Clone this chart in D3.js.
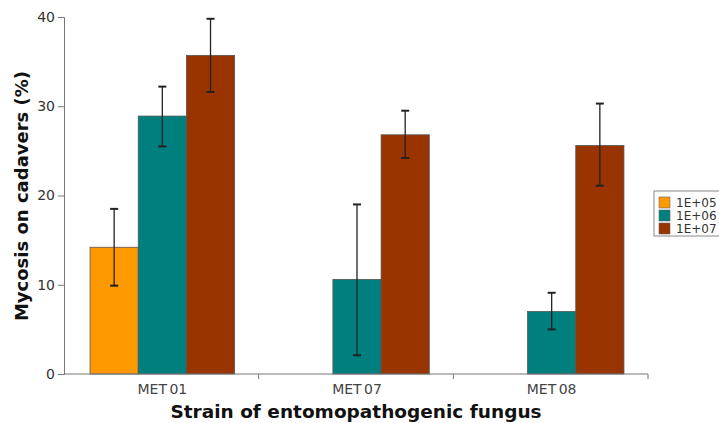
<!DOCTYPE html>
<html><head><meta charset="utf-8">
<script src="https://cdn.jsdelivr.net/npm/d3@7"></script>
<style>body{margin:0;background:#fff}svg{display:block}</style>
</head><body>
<svg id="c" width="719" height="423"></svg>
<script>
const strains = ["MET 01", "MET 07", "MET 08"];
const doses = ["1E+05", "1E+06", "1E+07"];
const colors = ["#ff9900", "#007f7f", "#993300"];
// means per dose, in strain order (null = no bar)
const mean05 = [14.2, null, null];
const mean06 = [28.9, 10.6, 7.0];
const mean07 = [35.7, 26.8, 25.6];
const lo05 = [9.9, null, null];
const hi05 = [18.5, null, null];
const lo06 = [25.5, 2.1, 5.0];
const hi06 = [32.2, 19.0, 9.1];
const lo07 = [31.6, 24.2, 21.1];
const hi07 = [39.8, 29.5, 30.3];
const yTicks = [0, 10, 20, 30, 40];

const means = [mean05, mean06, mean07];
const los = [lo05, lo06, lo07];
const his = [hi05, hi06, hi07];

const svg = d3.select("#c");
const font = "DejaVu Sans, Verdana, sans-serif";
const x0 = d3.scaleBand().domain(strains).range([64, 648]).paddingInner(0).paddingOuter(0);
const x1 = d3.scaleBand().domain(doses).range([0, x0.bandwidth()]).paddingInner(0).paddingOuter(0.52);
const y = d3.scaleLinear().domain([0, 40]).range([374, 17]);

const rows = [];
strains.forEach((s, i) => doses.forEach((d, j) => {
  if (means[j][i] != null) rows.push({s, d, j, v: means[j][i], lo: los[j][i], hi: his[j][i]});
}));

svg.append("g").selectAll("rect").data(rows).join("rect")
  .attr("x", r => x0(r.s) + x1(r.d) + 1)
  .attr("y", r => y(r.v))
  .attr("width", x1.bandwidth())
  .attr("height", r => y(0) - y(r.v))
  .attr("fill", r => colors[r.j])
  .attr("stroke", "#555").attr("stroke-width", 0.8);

const eb = svg.append("g").attr("stroke", "#222").attr("stroke-width", 1.3);
rows.forEach(r => {
  const cx = x0(r.s) + x1(r.d) + 1 + x1.bandwidth() / 2;
  eb.append("line").attr("x1", cx).attr("x2", cx).attr("y1", y(r.lo)).attr("y2", y(r.hi));
  eb.append("line").attr("x1", cx - 4).attr("x2", cx + 4).attr("y1", y(r.lo)).attr("y2", y(r.lo)).attr("stroke-width", 2);
  eb.append("line").attr("x1", cx - 4).attr("x2", cx + 4).attr("y1", y(r.hi)).attr("y2", y(r.hi)).attr("stroke-width", 2);
});

// y axis
const ya = svg.append("g").attr("transform", "translate(64,0)")
  .call(d3.axisLeft(y).tickValues(yTicks).tickSize(6).tickPadding(3));
ya.selectAll("path, line").attr("stroke", "#777");
ya.selectAll("text").attr("font-family", font).attr("font-size", 14).attr("fill", "#333");

// x axis
const xa = svg.append("g").attr("transform", "translate(0,374)");
xa.append("line").attr("x1", 64).attr("x2", 648).attr("stroke", "#777");
xa.selectAll("line.t").data(strains.slice(1).concat(["end"])).join("line").attr("class", "t")
  .attr("x1", (d, i) => i < 2 ? x0(d) : 648).attr("x2", (d, i) => i < 2 ? x0(d) : 648)
  .attr("y1", 0).attr("y2", 5).attr("stroke", "#777");
xa.selectAll("text").data(strains).join("text")
  .attr("x", d => x0(d) + x0.bandwidth() / 2 + 1).attr("y", 20)
  .attr("text-anchor", "middle").attr("font-family", font).attr("font-size", 14)
  .attr("fill", "#444").attr("word-spacing", -2).text(d => d);

// axis titles
svg.append("text").attr("x", 356).attr("y", 418).attr("text-anchor", "middle")
  .attr("font-family", font).attr("font-weight", "bold").attr("font-size", 18.5).attr("fill", "#111")
  .text("Strain of entomopathogenic fungus");
svg.append("text").attr("transform", "translate(28,196) rotate(-90)").attr("text-anchor", "middle")
  .attr("font-family", font).attr("font-weight", "bold").attr("font-size", 18).attr("fill", "#111")
  .text("Mycosis on cadavers (%)");

// legend
const lg = svg.append("g").attr("transform", "translate(654,191)");
lg.append("rect").attr("width", 70).attr("height", 45).attr("fill", "#fff").attr("stroke", "#888");
doses.forEach((d, i) => {
  lg.append("rect").attr("x", 5).attr("y", 6 + i * 13).attr("width", 11).attr("height", 11)
    .attr("fill", colors[i]).attr("stroke", "#666").attr("stroke-width", 0.6);
  lg.append("text").attr("x", 22).attr("y", 15.5 + i * 13).attr("font-family", font)
    .attr("font-size", 12).attr("fill", "#333").text(d);
});
</script>
</body></html>
